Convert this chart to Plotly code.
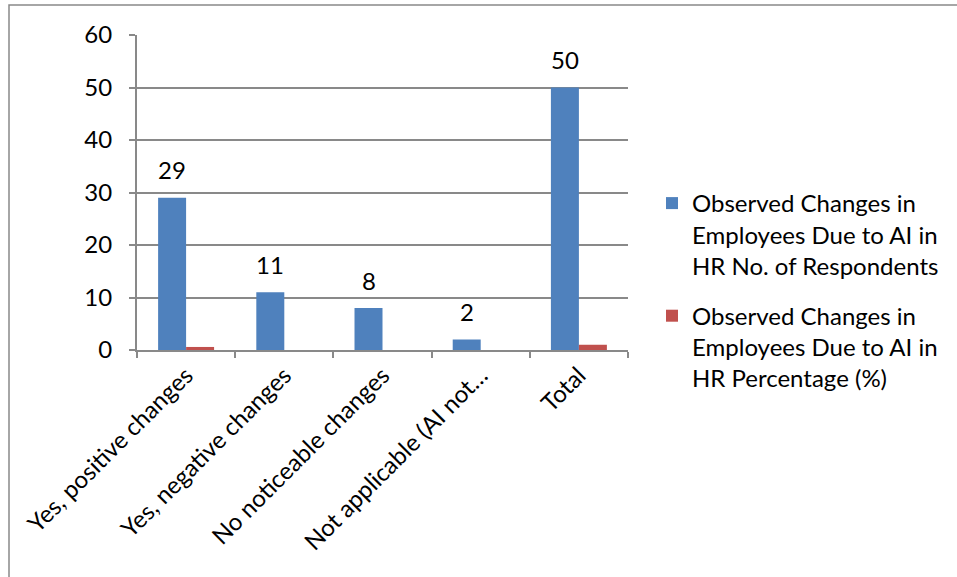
import plotly.graph_objects as go

categories = ["Yes, positive changes", "Yes, negative changes", "No noticeable changes",
              "Not applicable (AI not…", "Total"]
respondents = [29, 11, 8, 2, 50]
percentage = [0.58, 0, 0, 0, 1.0]
series_names = ["Observed Changes in<br>Employees Due to AI in<br>HR No. of Respondents",
                "Observed Changes in<br>Employees Due to AI in<br>HR Percentage (%)"]

W, H = 957, 577
L, R, T, B = 137, 628, 35, 350
FONT = "Lato"
FS = 24
GRAY = "#898989"

fig = go.Figure()
fig.add_trace(go.Bar(x=categories, y=respondents, name=series_names[0], legendgroup="a",
                     marker=dict(color="#4F81BD", line=dict(width=0))))
fig.add_trace(go.Bar(x=categories, y=percentage, name=series_names[1], legendgroup="b",
                     marker=dict(color="#C0504D", line=dict(width=0))))

for c, v in zip(categories, respondents):
    fig.add_annotation(x=c, y=v, text=str(v), showarrow=False, xshift=-14, yshift=28,
                       font=dict(family=FONT, size=FS, color="black"))

def px_to_paper_x(px):
    return (px - L) / (R - L)

def px_to_paper_y(py):
    return (B - py) / (B - T)

fig.add_shape(type="rect", xref="paper", yref="paper",
              x0=px_to_paper_x(9), y0=px_to_paper_y(5), x1=px_to_paper_x(1000), y1=px_to_paper_y(700),
              line=dict(color=GRAY, width=1.5), layer="below")

fig.update_layout(
    width=W, height=H,
    margin=dict(l=L, r=W - R, t=T, b=H - B, autoexpand=False),
    paper_bgcolor="white", plot_bgcolor="white",
    barmode="group", bargap=0.43, bargroupgap=0,
    font=dict(family=FONT, size=FS, color="black"),
    showlegend=True,
    legend=dict(x=px_to_paper_x(652), y=px_to_paper_y(181), xanchor="left", yanchor="top",
                valign="top", tracegroupgap=16, font=dict(family=FONT, size=FS, color="black"),
                itemwidth=30, bgcolor="rgba(0,0,0,0)"),
    xaxis=dict(tickangle=-45, showline=True, linecolor=GRAY, linewidth=2,
               ticks="outside", tickson="boundaries", ticklen=6, tickcolor=GRAY, tickwidth=2,
               showgrid=False, tickfont=dict(family=FONT, size=FS, color="black")),
    yaxis=dict(range=[0, 60], dtick=10, showline=True, linecolor=GRAY, linewidth=2,
               ticks="outside", ticklen=6, tickcolor=GRAY, tickwidth=2,
               showgrid=True, gridcolor=GRAY, gridwidth=1.5, zeroline=False,
               ticklabelstandoff=12, tickfont=dict(family=FONT, size=FS, color="black")),
)

fig.write_html("out.html")
